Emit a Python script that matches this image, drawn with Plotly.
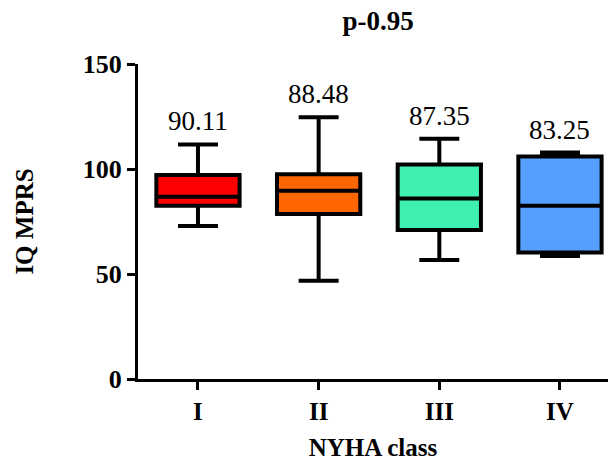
import plotly.graph_objects as go

categories = ["I", "II", "III", "IV"]
means = ["90.11", "88.48", "87.35", "83.25"]
q1 = [82.5, 78.6, 71.0, 60.2]
median = [86.8, 89.7, 85.9, 82.5]
q3 = [97.1, 97.5, 102.2, 105.9]
lower = [72.9, 46.8, 56.7, 58.6]
upper = [111.7, 124.6, 114.4, 107.8]
colors = ["#FF0000", "#FF6600", "#40F0B0", "#55A0FF"]

FONT = "Liberation Serif"

fig = go.Figure()
for i, c in enumerate(categories):
    fig.add_trace(go.Box(
        x=[i], q1=[q1[i]], median=[median[i]], q3=[q3[i]],
        lowerfence=[lower[i]], upperfence=[upper[i]],
        width=0.69, whiskerwidth=0.48,
        fillcolor=colors[i], line=dict(color="black", width=4),
        boxpoints=False, showlegend=False, hoverinfo="skip",
    ))
    fig.add_annotation(
        x=i, y=upper[i], text=means[i], showarrow=False,
        yanchor="middle", yshift=23,
        font=dict(family=FONT, size=27, color="black"),
    )

fig.update_layout(
    width=610, height=463,
    margin=dict(l=138, r=2, t=64, b=84),
    plot_bgcolor="white", paper_bgcolor="white",
    title=dict(text="<b>p-0.95</b>", x=0.62, xanchor="center", y=0.955, yanchor="middle",
               font=dict(family=FONT, size=27, color="black")),
    font=dict(family=FONT, color="black"),
)
fig.update_xaxes(
    range=[-0.497, 3.398], tickvals=list(range(len(categories))), ticktext=categories,
    showline=True, linecolor="black", linewidth=3, ticks="outside", ticklen=8, tickwidth=3,
    tickcolor="black", showgrid=False, zeroline=False,
    tickfont=dict(family=FONT, size=25, weight="bold"),
    title=dict(text="NYHA class", font=dict(family=FONT, size=25, weight="bold"), standoff=15),
)
fig.update_yaxes(
    range=[0, 150], tickvals=[0, 50, 100, 150],
    showline=True, linecolor="black", linewidth=3, ticks="outside", ticklen=8, tickwidth=3,
    tickcolor="black", showgrid=False, zeroline=False,
    tickfont=dict(family=FONT, size=26, weight="bold"),
    title=dict(text="IQ MPRS", font=dict(family=FONT, size=25, weight="bold"), standoff=43),
)
fig.write_html("out.html", config={"displayModeBar": False},
               post_script="document.body.style.margin='0';")
